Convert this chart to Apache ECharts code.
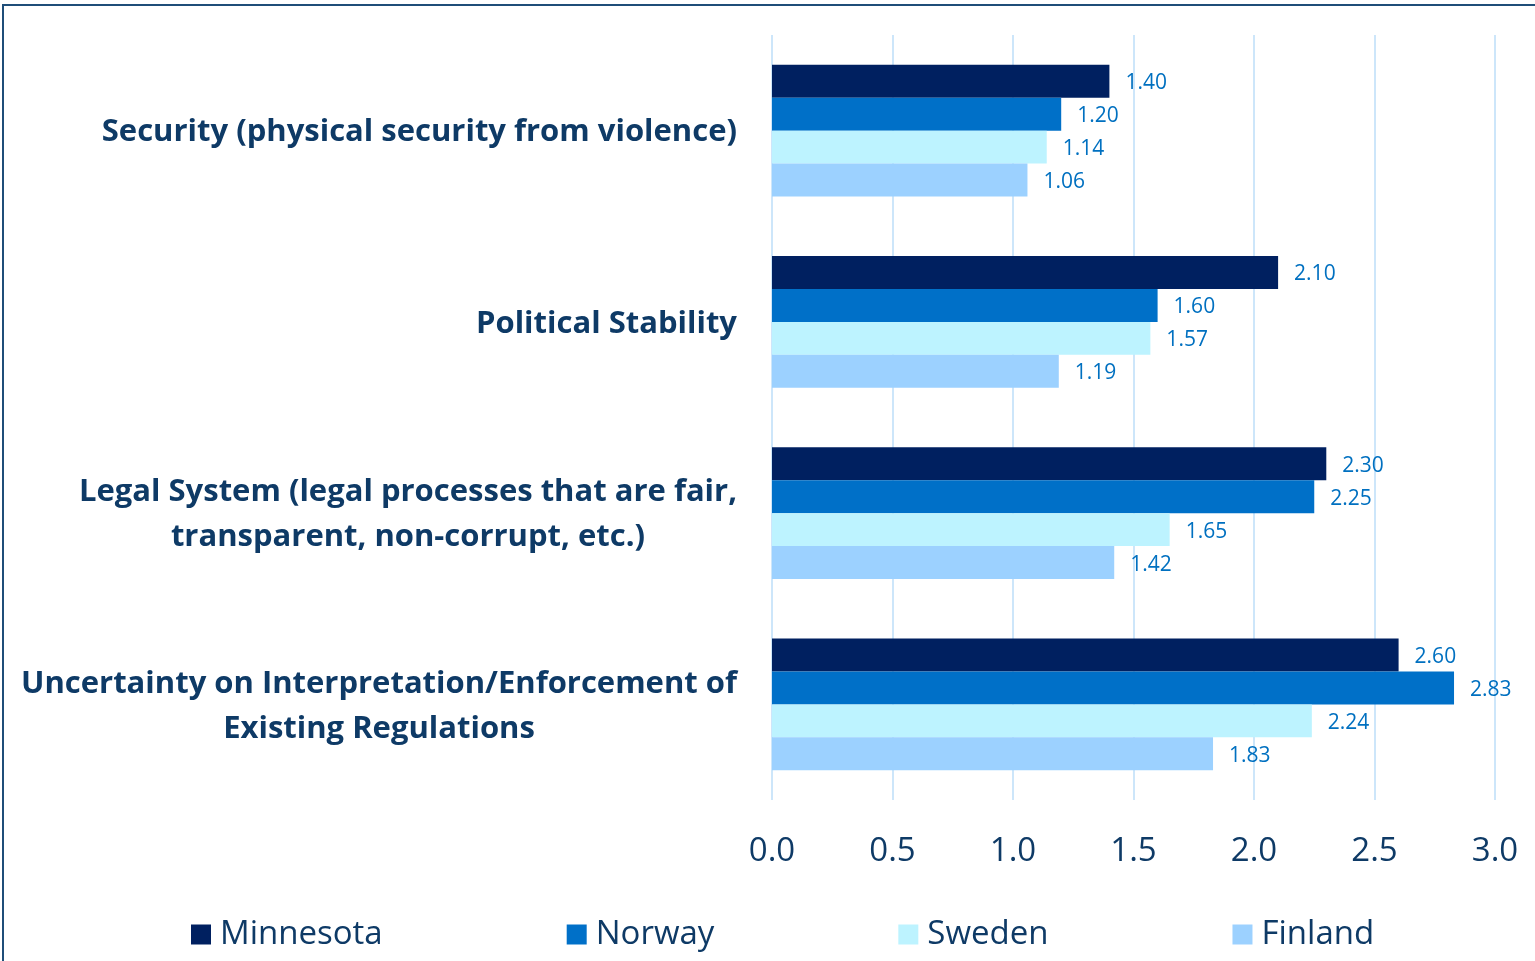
<!DOCTYPE html>
<html>
<head>
<meta charset="utf-8">
<script src="https://cdn.jsdelivr.net/npm/echarts@6/dist/echarts.min.js"></script>
<style>
  html, body { margin: 0; padding: 0; background: #fff; }
  #chart { width: 1535px; height: 961px; }
</style>
</head>
<body>
<div id="chart"></div>
<script>
// categories, top to bottom
var categories = [
  'Security (physical security from violence)',
  'Political Stability',
  'Legal System (legal processes that are fair,\ntransparent, non-corrupt, etc.)',
  'Uncertainty on Interpretation/Enforcement of\nExisting Regulations'
];
var seriesNames = ['Minnesota', 'Norway', 'Sweden', 'Finland'];
var minnesota = [1.40, 2.10, 2.30, 2.60];
var norway = [1.20, 1.60, 2.25, 2.83];
var sweden = [1.14, 1.57, 1.65, 2.24];
var finland = [1.06, 1.19, 1.42, 1.83];
var colors = ['#002060', '#0070C8', '#BDF3FF', '#9CD1FF'];

var textColor = '#0E3A66';
var chart = echarts.init(document.getElementById('chart'));

function mkSeries(name, data, color) {
  return {
    name: name,
    type: 'bar',
    data: data,
    barGap: '0%',
    barCategoryGap: '31%',
    itemStyle: { color: color },
    label: {
      show: true,
      position: 'right',
      distance: 16,
      offset: [0, 2],
      color: '#0070C0',
      fontSize: 21,
      fontFamily: 'Open Sans',
      formatter: function (p) { return p.value.toFixed(2); }
    }
  };
}

var option = {
  animation: false,
  graphic: [{
    type: 'rect',
    shape: { x: 3, y: 5, width: 1600, height: 1000 },
    style: { fill: 'none', stroke: '#1F4E79', lineWidth: 2 },
    silent: true
  }],
  grid: { left: 772, right: 40, top: 35, bottom: 161 },
  legend: {
    bottom: 5,
    left: 186,
    itemGap: 184,
    itemWidth: 20,
    itemHeight: 20,
    icon: 'rect',
    textStyle: { color: textColor, fontSize: 33, fontFamily: 'Open Sans', padding: [0, 0, 0, 4] },
    data: seriesNames
  },
  xAxis: {
    type: 'value',
    min: 0,
    max: 3,
    interval: 0.5,
    axisLine: { show: false },
    axisTick: { show: false },
    splitLine: { lineStyle: { color: '#CDE6FA', width: 2 } },
    axisLabel: {
      color: textColor,
      fontSize: 33,
      fontFamily: 'Open Sans',
      margin: 35,
      formatter: function (v) { return v.toFixed(1); }
    }
  },
  yAxis: {
    type: 'category',
    inverse: true,
    data: categories,
    axisLine: { show: false },
    axisTick: { show: false },
    axisLabel: {
      margin: 35,
      padding: [4, 0, 0, 0],
      formatter: function (v) {
        return v.split('\n').map(function (s) { return '{c|' + s + '}'; }).join('\n');
      },
      rich: {
        c: {
          align: 'center',
          color: textColor,
          fontSize: 31,
          fontWeight: 'bold',
          fontFamily: 'Open Sans',
          lineHeight: 45
        }
      }
    }
  },
  series: [
    mkSeries(seriesNames[0], minnesota, colors[0]),
    mkSeries(seriesNames[1], norway, colors[1]),
    mkSeries(seriesNames[2], sweden, colors[2]),
    mkSeries(seriesNames[3], finland, colors[3])
  ]
};
chart.setOption(option);
</script>
</body>
</html>
